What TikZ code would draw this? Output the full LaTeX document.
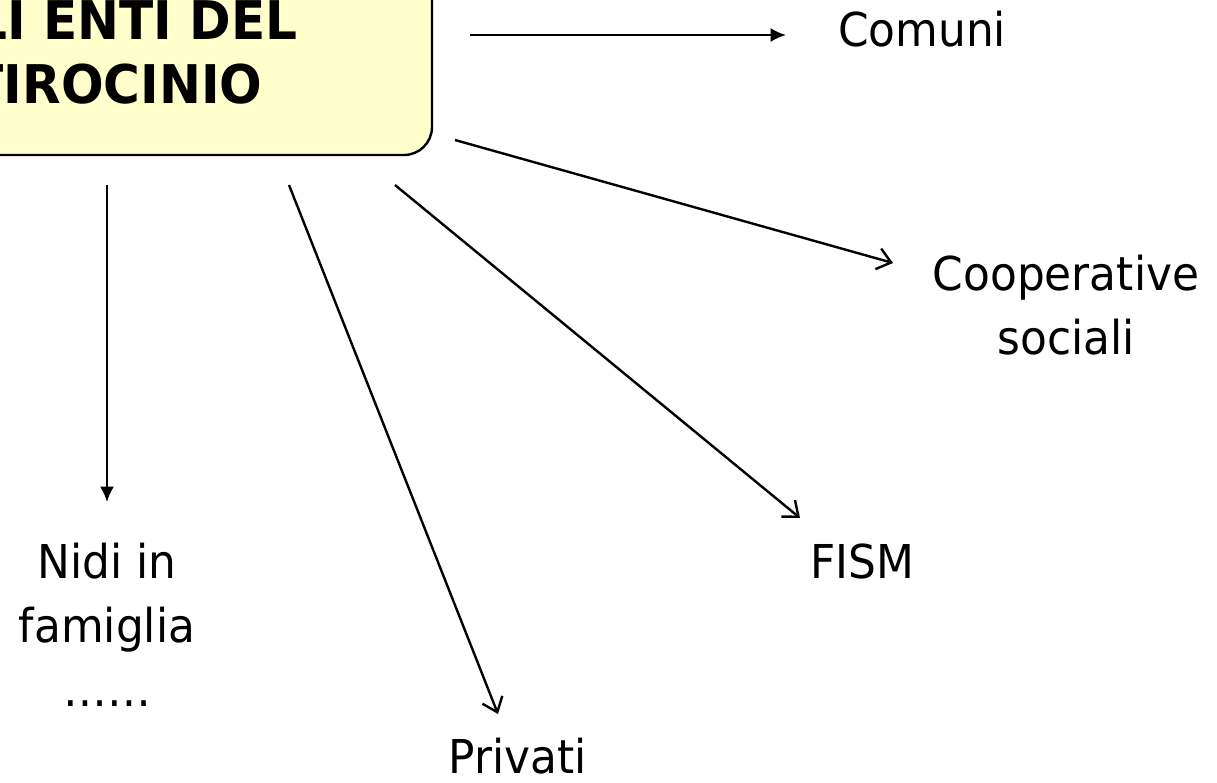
\documentclass[tikz,border=0pt]{standalone}
\usepackage{fontspec}
\setmainfont{DejaVu Sans}[FakeStretch=0.94]
\usetikzlibrary{arrows.meta}
\definecolor{boxfill}{HTML}{FFFFCC}
\tikzset{
  lbl/.style={inner sep=0pt, align=center, font=\fontsize{35}{48}\selectfont},
  title/.style={inner sep=0pt, align=center, font=\fontsize{40}{47.5}\selectfont\bfseries},
  link/.style={line width=1.8pt},
  solidtip/.style={link, -{Latex[length=11.5pt,width=10.5pt]}},
  opentip/.style={link, -{Straight Barb[length=10pt,width=16pt,line width=1.8pt]}},
}
\begin{document}
\begin{tikzpicture}[x=0.75pt, y=-0.75pt]
  \useasboundingbox (0,0) rectangle (1217,782);

  % heading box
  \draw[line width=1.8pt, fill=boxfill, rounded corners=21pt]
    (-250,-60) rectangle (432,155);
  \node[title, anchor=base east] (head) at (298,103) {GLI ENTI DEL\\TIROCINIO};

  % destinations (base anchor = baseline of the last line)
  \node[lbl, anchor=base] (comuni) at (922,46) {Comuni};
  \node[lbl, anchor=base] (coop) at (1066,354) {Cooperative\\sociali};
  \node[lbl, anchor=base] (fism) at (862,578) {FISM};
  \node[lbl, anchor=base] (privati) at (518,773) {Privati};
  \node[lbl, anchor=base] (nidi) at (107,706) {Nidi in\\famiglia\\……};

  % connector end points
  \coordinate (s1) at (470,35);  \coordinate (e1) at (786,35);
  \coordinate (s2) at (455,140); \coordinate (e2) at (893,263);
  \coordinate (s3) at (395,185); \coordinate (e3) at (800,518);
  \coordinate (s4) at (289,185); \coordinate (e4) at (498,714);
  \coordinate (s5) at (107,185); \coordinate (e5) at (107,502);

  \draw[solidtip] (s1) -- (e1);
  \draw[opentip] (s2) -- (e2);
  \draw[opentip] (s3) -- (e3);
  \draw[opentip] (s4) -- (e4);
  \draw[solidtip] (s5) -- (e5);
\end{tikzpicture}
\end{document}
